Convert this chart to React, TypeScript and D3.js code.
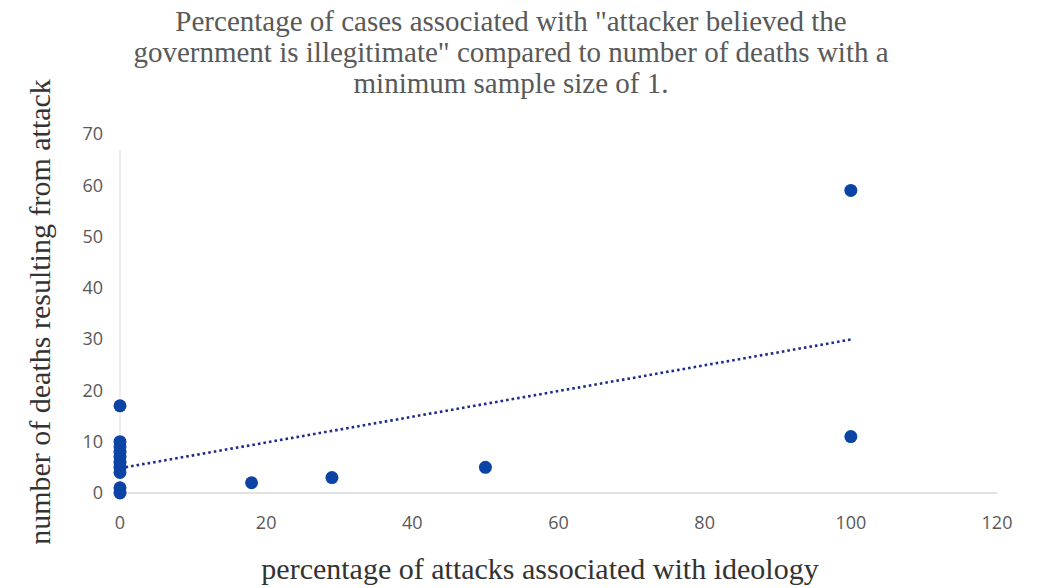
import React from "react";
import * as d3 from "d3";

const W = 1039;
const H = 588;

const titleLines = [
  'Percentage of cases associated with "attacker believed the',
  'government is illegitimate" compared to number of deaths with a',
  "minimum sample size of 1.",
];
const xLabel = "percentage of attacks associated with ideology";
const yLabel = "number of deaths resulting from attack";

const xTicks = [0, 20, 40, 60, 80, 100, 120];
const yTicks = [0, 10, 20, 30, 40, 50, 60, 70];

const pctValues = [0, 0, 0, 0, 0, 0, 0, 0, 0, 0, 18, 29, 50, 100, 100];
const deathValues = [17, 10, 9, 8, 7, 6, 5, 4, 1, 0, 2, 3, 5, 59, 11];

export default function App() {
  const x = d3.scaleLinear().domain([0, 120]).range([120, 997]);
  const y = d3.scaleLinear().domain([0, 70]).range([493, 134]);

  const pts = pctValues.map((v, i) => ({ x: v, y: deathValues[i] }));
  const mx = d3.mean(pts, (d) => d.x) as number;
  const my = d3.mean(pts, (d) => d.y) as number;
  const sxy = d3.sum(pts, (d) => (d.x - mx) * (d.y - my));
  const sxx = d3.sum(pts, (d) => (d.x - mx) * (d.x - mx));
  const slope = sxy / sxx;
  const intercept = my - slope * mx;
  const xMin = d3.min(pctValues) as number;
  const xMax = d3.max(pctValues) as number;
  const trend = [
    [xMin, intercept + slope * xMin],
    [xMax, intercept + slope * xMax],
  ] as [number, number][];
  const line = d3
    .line<[number, number]>()
    .x((d) => x(d[0]))
    .y((d) => y(d[1]));

  const tickFont = "'Open Sans', 'Liberation Sans', sans-serif";
  const serif = "'Liberation Serif', 'Times New Roman', serif";

  return (
    <svg
      width={W}
      height={H}
      style={{ position: "absolute", left: 0, top: 0, background: "#fff" }}
    >
      {titleLines.map((t, i) => (
        <text
          key={i}
          x={511}
          y={31 + i * 31}
          textAnchor="middle"
          fontFamily={serif}
          fontSize={29}
          fill="#595959"
        >
          {t}
        </text>
      ))}

      {/* axis lines */}
      <line x1={x(0)} x2={x(120)} y1={y(0)} y2={y(0)} stroke="#d9d9d9" strokeWidth={1.3} />
      <line x1={x(0)} x2={x(0)} y1={y(0)} y2={y(67)} stroke="#e3e3e3" strokeWidth={1.3} />

      {/* y tick labels */}
      {yTicks.map((t) => (
        <text
          key={"y" + t}
          x={103}
          y={y(t)}
          dy="0.35em"
          textAnchor="end"
          fontFamily={tickFont}
          fontSize={18}
          fill="#595959"
        >
          {t}
        </text>
      ))}
      {/* x tick labels */}
      {xTicks.map((t) => (
        <text
          key={"x" + t}
          x={x(t)}
          y={523}
          dy="0.35em"
          textAnchor="middle"
          fontFamily={tickFont}
          fontSize={18}
          fill="#595959"
        >
          {t}
        </text>
      ))}

      {/* trendline */}
      <path
        d={line(trend) || ""}
        fill="none"
        stroke="#1f2d8a"
        strokeWidth={2.6}
        strokeDasharray="2.6 3"
      />

      {/* points */}
      {pts.map((p, i) => (
        <circle key={i} cx={x(p.x)} cy={y(p.y)} r={6.5} fill="#0b44a5" />
      ))}

      {/* axis titles */}
      <text
        x={540}
        y={579}
        textAnchor="middle"
        fontFamily={serif}
        fontSize={30}
        fill="#333"
      >
        {xLabel}
      </text>
      <text
        transform={`translate(50, ${312}) rotate(-90)`}
        textAnchor="middle"
        fontFamily={serif}
        fontSize={30}
        fill="#333"
      >
        {yLabel}
      </text>
    </svg>
  );
}
